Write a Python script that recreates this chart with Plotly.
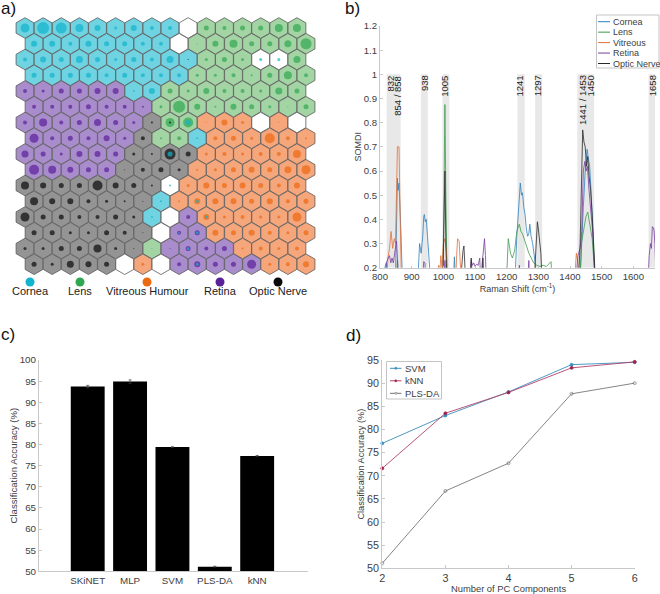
import plotly.graph_objects as go

W, H = 660, 594
FONT = "Liberation Sans"
TICK = "#404040"
AXIS = "#c8c8c8"

# ---- panel a data ----
som_classes = [
    "CCCCCCCCCWLLLLLL", "CCCCCCCCWLLLLLLL", "CCCCCCCCCCLLLWWL", "CCCCCCCCCLLLLLLL",
    "RRRRRRCCLLLLLLLL", "RRRRRRRLLLLLLLLL", "RRRRRRROLLVVVWVW", "RRRRRROLLCVVVVVV",
    "RRRRRROOOOVVVVVV", "RRRRROOOOVVVVVVV", "OOOOOOOOWVVVVVVV", "OOOOOOOCVVVVVVVV",
    "OOOOOOOCWRVVVVVV", "OOOOOOOWRRVVVVVV", "OOOOOOOLRRRRVVVV", "OOOOOWVWRRRRRVVV",
]
som_hits = [
    [9,12,11,8,6,3,6,4,4,0,5,4,5,5,8,8],
    [6,6,4,6,5,5,4,4,0,1,6,8,5,5,7,11],
    [4,6,5,7,5,3,5,4,7,1,3,5,3,3,3,7],
    [5,5,5,5,4,5,4,4,4,3,3,4,2,5,8,4],
    [4,3,5,5,6,6,2,6,5,3,6,4,4,3,7,5],
    [4,4,4,5,4,4,2,3,12,6,2,6,5,3,1,5],
    [4,8,4,5,7,5,3,2,9,10,1,6,3,0,1,0],
    [9,4,5,4,6,3,4,2,4,2,4,5,3,10,4,2],
    [7,5,3,6,6,5,3,2,11,5,3,4,3,4,4,8],
    [10,8,6,5,5,1,4,5,3,2,3,5,6,5,7,9],
    [8,6,5,5,10,6,5,2,2,3,6,5,6,5,4,6],
    [8,6,6,4,3,2,1,2,2,6,6,6,5,6,4,5],
    [9,5,5,4,4,5,3,2,0,4,6,3,4,3,3,9],
    [5,5,3,3,5,4,1,0,4,5,6,5,6,4,3,5],
    [3,3,5,5,8,3,1,1,1,5,4,5,2,4,3,4],
    [5,3,7,6,5,0,3,0,4,6,5,5,9,3,4,6],
]
# mixed cells: row, column, second class, size of second class blob
mixed_rows = [6, 8, 11, 12, 13, 13, 14, 15, 2, 6]
mixed_cols = [9, 8, 9, 10, 8, 9, 9, 9, 9, 8]
mixed_class = ["C", "C", "C", "C", "C", "C", "C", "C", "O", "O"]
mixed_size = [5, 5, 3, 3, 2, 3, 3, 3, 1, 2]
legend_a = ["Cornea", "Lens", "Vitreous Humour", "Retina", "Optic Nerve"]

# ---- panel b data ----
band_ranges = [(821, 865), (929, 951), (997, 1019), (1234, 1257), (1290, 1312), (1423, 1476), (1648, 1670)]
band_labels = ["832", "854 / 858", "938", "1005", "1241", "1297", "1441 / 1453", "1450", "1658"]
band_label_x = [832, 855, 941, 1005, 1241, 1297, 1440, 1465, 1660]

cornea_x = [810,815,820,825,848,852,855,857,860,866,872,918,922,925,930,935,938,940,943,946,950,955,962,1030,1035,1040,1225,1232,1238,1243,1247,1250,1254,1258,1262,1266,1270,1273,1277,1282,1290,1298,1430,1436,1442,1448,1451,1454,1458,1462,1467,1472,1478]
cornea_y = [0.1,0.2,0.22,0.1,0.1,0.4,0.57,0.52,0.55,0.35,0.1,0.1,0.25,0.3,0.26,0.33,0.41,0.42,0.39,0.40,0.33,0.25,0.1,0.1,0.245,0.1,0.1,0.33,0.45,0.55,0.5,0.51,0.45,0.42,0.36,0.33,0.34,0.38,0.33,0.30,0.22,0.1,0.1,0.3,0.45,0.6,0.66,0.69,0.65,0.62,0.5,0.38,0.18]
lens_x = [850,855,860,998,1002,1005,1008,1012,1198,1205,1212,1218,1225,1232,1240,1245,1250,1260,1270,1285,1295,1305,1315,1325,1335,1340,1346,1430,1436,1444,1450,1456,1462,1470,1478]
lens_y = [0.1,0.23,0.1,0.1,0.5,0.875,0.5,0.1,0.1,0.32,0.26,0.24,0.27,0.35,0.38,0.35,0.34,0.30,0.26,0.22,0.21,0.205,0.21,0.205,0.22,0.225,0.1,0.1,0.3,0.36,0.41,0.43,0.38,0.32,0.18]
vitreous_x = [820,825,830,835,840,845,849,852,855,860,864,868,980,985,990,992,996,1000,1005,1010,1016,1038,1042,1045,1050,1053,1058,1412,1420,1425,1430]
vitreous_y = [0.1,0.24,0.28,0.35,0.28,0.32,0.3,0.5,0.70,0.70,0.4,0.1,0.1,0.21,0.2,0.25,0.2,0.3,0.32,0.26,0.1,0.1,0.25,0.32,0.31,0.22,0.1,0.1,0.26,0.22,0.1]
retina_x = [812,820,826,830,834,838,842,846,852,856,860,932,938,942,946,1000,1005,1009,1082,1088,1092,1096,1100,1105,1110,1115,1119,1122,1126,1130,1133,1137,1235,1240,1244,1264,1270,1274,1415,1425,1432,1437,1442,1447,1451,1455,1460,1466,1472,1480,1645,1650,1654,1657,1660,1665,1668,1673]
retina_y = [0.1,0.22,0.24,0.25,0.22,0.24,0.22,0.25,0.31,0.22,0.1,0.1,0.225,0.22,0.1,0.1,0.23,0.1,0.1,0.23,0.21,0.22,0.205,0.215,0.21,0.24,0.1,0.21,0.26,0.32,0.25,0.1,0.1,0.21,0.1,0.1,0.23,0.1,0.1,0.25,0.28,0.35,0.6,0.64,0.6,0.62,0.52,0.42,0.34,0.1,0.1,0.25,0.3,0.28,0.37,0.36,0.3,0.1]
optic_x = [998,1002,1005,1008,1012,1052,1058,1062,1065,1068,1072,1082,1088,1094,1120,1125,1130,1285,1292,1297,1300,1304,1308,1313,1425,1432,1436,1440,1444,1448,1452,1456,1460,1465,1470,1475,1482]
optic_y = [0.1,0.35,0.6,0.3,0.1,0.1,0.23,0.27,0.29,0.22,0.1,0.1,0.24,0.1,0.1,0.24,0.1,0.1,0.3,0.39,0.36,0.31,0.26,0.1,0.1,0.3,0.5,0.77,0.72,0.7,0.62,0.66,0.58,0.52,0.42,0.3,0.1]

# ---- panel c data ----
methods = ["SKiNET", "MLP", "SVM", "PLS-DA", "kNN"]
accuracy = [93.7, 94.9, 79.4, 51.1, 77.3]
accuracy_err = [0.3, 0.4, 0.1, 0.1, 0.1]

# ---- panel d data ----
pc_components = [2, 3, 4, 5, 6]
svm_acc = [77.0, 83.0, 88.1, 94.0, 94.5]
knn_acc = [71.6, 83.5, 88.0, 93.3, 94.6]
pls_acc = [51.1, 66.7, 72.7, 87.7, 90.0]


def px(x):
    return x / W


def py(y):
    return 1 - y / H


def tick_axis(size=9.8, title=9.6):
    return dict(showgrid=False, zeroline=False, showline=True, linecolor=AXIS, linewidth=1,
                ticks="inside", ticklen=3, tickcolor=AXIS, tickwidth=1,
                tickfont=dict(family=FONT, size=size, color=TICK),
                title_font=dict(family=FONT, size=title, color=TICK), mirror=False)


fill = {"C": "#70D3E2", "L": "#A3D5A4", "V": "#F5A67B", "R": "#A98CCB", "O": "#949494", "W": "#FFFFFF"}
blob = {"C": "#10B4CC", "L": "#2FA650", "V": "#EC6A12", "R": "#5A2099", "O": "#0A0A0A", "W": "#10B4CC"}

fig = go.Figure()

# panel a
hx, hy, hc, bs, bc = [], [], [], [], []
for r, (cls, hits) in enumerate(zip(som_classes, som_hits)):
    for c, (k, s) in enumerate(zip(cls, hits)):
        hx.append(c + 0.5 * (r % 2))
        hy.append(r)
        hc.append(fill[k])
        bs.append(s)
        bc.append(blob[k])
fig.add_trace(go.Scatter(x=hx, y=hy, mode="markers", xaxis="x", yaxis="y", showlegend=False, name="SOM cells",
                         marker=dict(symbol="hexagon", size=20.6, color=hc, line=dict(color="#5a5a5a", width=0.8))))
fig.add_trace(go.Scatter(x=hx, y=hy, mode="markers", xaxis="x", yaxis="y", showlegend=False, name="SOM hits",
                         marker=dict(symbol="circle", size=bs, color=bc, line=dict(width=0))))
fig.add_trace(go.Scatter(x=[c + 0.5 * (r % 2) for r, c in zip(mixed_rows, mixed_cols)], y=mixed_rows,
                         mode="markers", xaxis="x", yaxis="y", showlegend=False, name="SOM mixed hits",
                         marker=dict(symbol="circle", size=mixed_size, color=[blob[k] for k in mixed_class],
                                     line=dict(width=0))))
leg_px = [30, 80, 147, 220, 278]
leg_keys = "CLVRO"
GX = lambda p: (p - 25) / 18.13
GY = lambda p: (p - 28) / 15.75
fig.add_trace(go.Scatter(x=[GX(p) for p in leg_px], y=[GY(282)] * 5, mode="markers", xaxis="x", yaxis="y",
                         showlegend=False, name="SOM key",
                         marker=dict(size=9, color=[blob[k] for k in leg_keys], line=dict(width=0))))

# panel b
series_b = [("Cornea", cornea_x, cornea_y, "#2F80BD"), ("Lens", lens_x, lens_y, "#3C9A4B"),
            ("Vitreous", vitreous_x, vitreous_y, "#E2703A"), ("Retina", retina_x, retina_y, "#7A3C9E"),
            ("Optic Nerve", optic_x, optic_y, "#2A2A2A")]
for name, xs, ys, col in series_b:
    fig.add_trace(go.Scatter(x=xs, y=ys, mode="lines", name=name, xaxis="x2", yaxis="y2", showlegend=False,
                             line=dict(color=col, width=0.8)))

# panel c
fig.add_trace(go.Bar(x=list(range(5)), y=accuracy, xaxis="x3", yaxis="y3", showlegend=False, width=0.8,
                     marker=dict(color="#000000", line=dict(width=0)), name="Accuracy",
                     error_y=dict(type="data", array=accuracy_err, color="#444", thickness=0.7, width=1.5)))

# panel d
series_d = [("SVM", svm_acc, "#3A8FBE", "circle", "#3A8FBE"),
            ("kNN", knn_acc, "#B2426A", "circle", "#A0204F"),
            ("PLS-DA", pls_acc, "#777777", "circle-open", "#777777")]
for name, ys, col, sym, mc in series_d:
    fig.add_trace(go.Scatter(x=pc_components, y=ys, mode="lines+markers", name=name, xaxis="x4", yaxis="y4",
                             showlegend=False, line=dict(color=col, width=0.9), cliponaxis=False,
                             marker=dict(symbol=sym, size=3, color=mc, line=dict(color=mc, width=0.7))))

shapes = []
for a, b in band_ranges:
    shapes.append(dict(type="rect", xref="x2", yref="y2", x0=a, x1=b, y0=0.2, y1=1.0,
                       fillcolor="#E8E8E8", line=dict(width=0), layer="below"))


def pshape(kind, x0, y0, x1, y1, **kw):
    shapes.append(dict(type=kind, xref="paper", yref="paper", x0=px(x0), x1=px(x1), y0=py(y0), y1=py(y1), **kw))


ann = []


def note(x, y, text, size=10.5, color=TICK, xanchor="left", yanchor="middle", **kw):
    ann.append(dict(xref="paper", yref="paper", x=px(x), y=py(y), text=text, showarrow=False, xanchor=xanchor,
                    yanchor=yanchor, font=dict(family=FONT, size=size, color=color),
                    borderpad=0, **kw))


# legend b (hand drawn for its tight row spacing)
pshape("rect", 596.5, 15, 659, 68, fillcolor="#FFFFFF", line=dict(color="#C4C4C4", width=1), layer="above")
for i, (name, _, _, col) in enumerate(series_b):
    y = 21.7 + i * 10.45
    pshape("line", 598, y, 610, y, line=dict(color=col, width=1))
    note(612, y, name, size=9)

# legend d
pshape("rect", 386.5, 361.5, 441.5, 399, fillcolor="#FFFFFF", line=dict(color="#C4C4C4", width=1), layer="above")
for i, (name, _, col, _, mc) in enumerate(series_d):
    y = 368.3 + i * 12.5
    pshape("line", 390, y, 401.5, y, line=dict(color=col, width=1))
    pshape("circle", 394.8, y - 1, 396.8, y + 1, line=dict(color=mc, width=0.7),
           fillcolor=mc if i < 2 else "#FFFFFF")
    note(403.5, y, name, size=9.5)

# panel letters
note(0, 9, "a)", size=17, color="#111", xanchor="left")
note(344, 9, "b)", size=17, color="#111", xanchor="left")
note(0, 334, "c)", size=17, color="#111", xanchor="left")
note(345, 335, "d)", size=17, color="#111", xanchor="left")

# panel a key labels
for t, p in zip(legend_a, leg_px):
    note(p, 291, t, size=11, color="#222", xanchor="center")

# band labels
for t, x in zip(band_labels, band_label_x):
    ann.append(dict(xref="x2", yref="y2", x=x, y=1.0, text=t, textangle=-90, showarrow=False, xanchor="center",
                    yanchor="top", font=dict(family=FONT, size=9.5, color="#222"), borderpad=0))

fig.update_layout(
    width=W, height=H, autosize=False, margin=dict(l=0, r=0, t=0, b=0, pad=0, autoexpand=False),
    paper_bgcolor="#FFFFFF", plot_bgcolor="rgba(0,0,0,0)", shapes=shapes, annotations=ann,
    font=dict(family=FONT, size=10.5, color=TICK), bargap=0.2,
    xaxis=dict(domain=[0, px(330)], range=[GX(0), GX(330)], visible=False),
    yaxis=dict(domain=[py(300), 1], range=[GY(300), GY(0)], visible=False),
    xaxis2={**tick_axis(9.6, 9), "domain": [px(380), px(655)], "anchor": "y2", "range": [800, 800 + 275 / 0.3167],
            "tickvals": [800, 900, 1000, 1100, 1200, 1300, 1400, 1500, 1600], "ticklen": 2,
            "title": dict(text="Raman Shift (cm<sup>-1</sup>)", standoff=2)},
    yaxis2={**tick_axis(9.6, 9), "domain": [py(267.7), py(26)], "anchor": "x2", "range": [0.2, 1.2],
            "tickvals": [0.2, 0.3, 0.4, 0.5, 0.6, 0.7, 0.8, 0.9, 1, 1.1, 1.2],
            "ticktext": ["0.2", "0.3", "0.4", "0.5", "0.6", "0.7", "0.8", "0.9", "1", "1.1", "1.2"],
            "title": dict(text="SOMDI", standoff=0)},
    xaxis3={**tick_axis(9.8, 9.6), "domain": [px(39), px(308)], "anchor": "y3", "range": [-1.15, 5.2],
            "tickvals": list(range(5)), "ticktext": methods, "ticks": ""},
    yaxis3={**tick_axis(9.8, 9.6), "domain": [py(571.3), py(360)], "anchor": "x3", "range": [50, 100],
            "tickvals": list(range(50, 101, 5)),
            "title": dict(text="Classification Accuracy (%)", standoff=0)},
    xaxis4={**tick_axis(10.8, 9.4), "domain": [px(382.3), px(634.7)], "anchor": "y4", "range": [2, 6],
            "tickvals": pc_components, "title": dict(text="Number of PC Components", standoff=2)},
    yaxis4={**tick_axis(10.8, 9.2), "domain": [py(568.3), py(360)], "anchor": "x4", "range": [50, 95],
            "tickvals": list(range(50, 96, 5)),
            "title": dict(text="Classification Accuracy (%)", standoff=0)},
)

fig.write_html("out.html", config={"displayModeBar": False}, post_script="document.body.style.margin='0';")
